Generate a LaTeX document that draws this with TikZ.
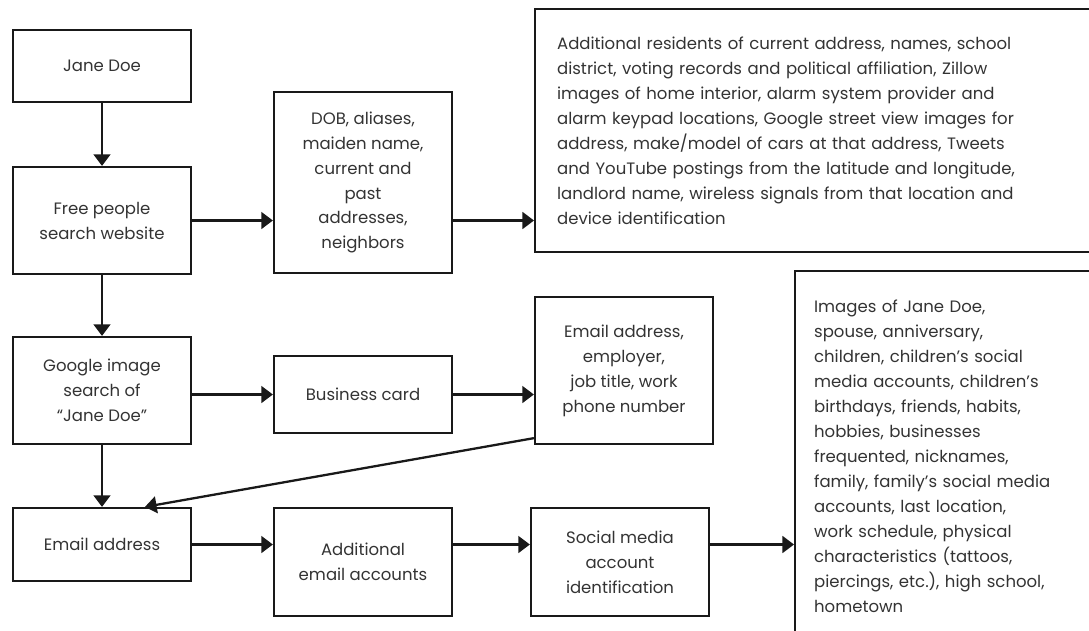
\documentclass[tikz,border=0pt]{standalone}
\usepackage{fontspec}
\setmainfont{Poppins}
\usetikzlibrary{arrows.meta}

\tikzset{
  box/.style={draw=black!90, line width=1.3pt, text=black!80, align=center,
    inner sep=0pt, minimum width=3.56cm, font=\fontsize{9.4}{14.2}\selectfont},
  flow/.style={draw=black!90, line width=1.3pt, -{Triangle[length=6.6pt,width=9.6pt]}},
}

\begin{document}
\begin{tikzpicture}[x=0.02cm, y=-0.02cm]
    \useasboundingbox (0,0) rectangle (1089,630);
    % left column
    \node[box, minimum height=1.44cm] (jane) at (102,66) {Jane Doe};
    \node[box, minimum height=2.14cm] (free) at (102,220.5) {Free people\\search website};
    \node[box, minimum height=2.14cm] (google) at (102,390.5) {Google image\\search of\\“Jane Doe”};
    \node[box, minimum height=1.46cm] (email) at (102,544.5) {Email address};
    % middle column
    \node[box, minimum height=3.62cm] (dob) at (363,182.5) {DOB, aliases,\\maiden name,\\current and\\past\\addresses,\\neighbors};
    \node[box, minimum height=1.54cm] (card) at (363,394.5) {Business card};
    \node[box, minimum height=2.16cm] (add) at (363,562) {Additional\\email accounts};
    \node[box, minimum height=2.94cm] (info) at (624,370.5) {Email address,\\employer,\\job title, work\\phone number};
    \node[box, minimum height=2.16cm] (social) at (620,562) {Social media\\account\\identification};
    % the two long lists on the right
    \node[box, anchor=west, minimum width=11.22cm, minimum height=4.86cm, inner xsep=0.44cm,
      text width=10.34cm, align=left] (res) at (534,130.5)
      {Additional residents of current address, names, school\\
       district, voting records and political affiliation, Zillow\\
       images of home interior, alarm system provider and\\
       alarm keypad locations, Google street view images for\\
       address, make/model of cars at that address, Tweets\\
       and YouTube postings from the latitude and longitude,\\
       landlord name, wireless signals from that location and\\
       device identification};
    \node[box, anchor=north west, minimum width=6.02cm, minimum height=7.4cm, inner xsep=0.38cm,
      text width=5.26cm, align=left] (img) at (794,270)
      {Images of Jane Doe,\\
       spouse, anniversary,\\
       children, children’s social\\
       media accounts, children’s\\
       birthdays, friends, habits,\\
       hobbies, businesses\\
       frequented, nicknames,\\
       family, family’s social media\\
       accounts, last location,\\
       work schedule, physical\\
       characteristics (tattoos,\\
       piercings, etc.), high school,\\
       hometown};

    \draw[flow] (jane) -- (free);
    \draw[flow] (free) -- (google);
    \draw[flow] (google) -- (email);
    \draw[flow] (free.east) -- (free.east -| dob.west);
    \draw[flow] (dob.east |- free.east) -- (free.east -| res.west);
    \draw[flow] (google.east |- card.west) -- (card.west);
    \draw[flow] (card.east) -- (card.east -| info.west);
    \draw[flow] ([yshift=0.14cm]info.south west) -- ([xshift=0.86cm]email.north);
    \draw[flow] (email.east) -- (email.east -| add.west);
    \draw[flow] (add.east |- email.east) -- (email.east -| social.west);
    \draw[flow] (social.east |- email.east) -- (email.east -| img.west);
\end{tikzpicture}
\end{document}
